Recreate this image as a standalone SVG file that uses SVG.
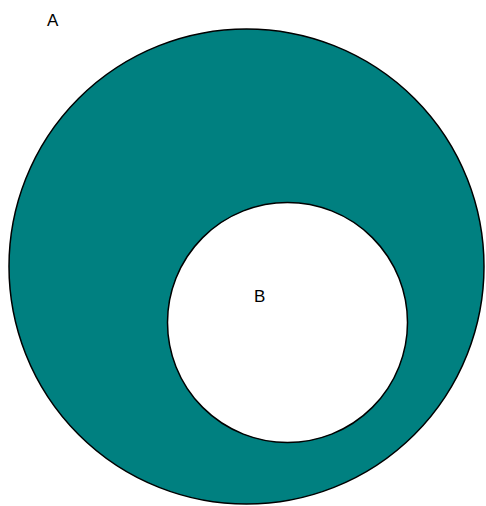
<svg xmlns="http://www.w3.org/2000/svg" width="486" height="506" viewBox="0 0 486 506">
<style>
.set{stroke:#000;stroke-width:1.5}
.lbl{font-family:"Liberation Sans",Arial,sans-serif;font-size:17px;fill:#000}
</style>
<rect width="486" height="506" fill="#fff"/>
<g id="A">
<circle class="set" cx="246.5" cy="266.5" r="237.5" fill="#008080"/>
<text class="lbl" x="47" y="26">A</text>
</g>
<g id="B">
<circle class="set" cx="287.5" cy="322.5" r="120" fill="#fff"/>
<text class="lbl" x="254" y="302">B</text>
</g>
<g id="connectors"/>
</svg>
